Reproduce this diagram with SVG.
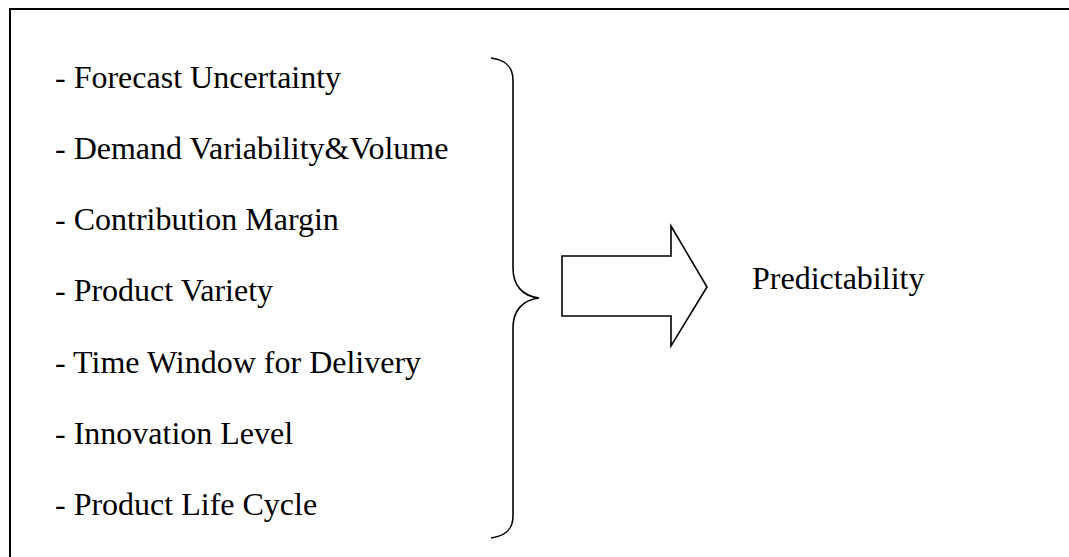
<svg xmlns="http://www.w3.org/2000/svg" width="1069" height="557" viewBox="0 0 1069 557">
  <style>
    .frame { fill: none; stroke: #000; stroke-width: 2; }
    .line { fill: none; stroke: #000; stroke-width: 1.6; stroke-linejoin: miter; }
    .item { font-family: "Liberation Serif", "Times New Roman", serif; font-size: 32px; fill: #000; }
    .result { font-family: "Liberation Serif", "Times New Roman", serif; font-size: 32px; fill: #000; }
  </style>
  <rect width="1069" height="557" fill="#fff"/>
  <!-- outer frame, open past the right and bottom edges -->
  <rect class="frame" x="10" y="9" width="1100" height="600"/>

  <g id="factors">
    <text class="item" x="55" y="88">- Forecast Uncertainty</text>
    <text class="item" x="55" y="159">- Demand Variability&amp;Volume</text>
    <text class="item" x="55" y="230">- Contribution Margin</text>
    <text class="item" x="55" y="301">- Product Variety</text>
    <text class="item" x="55" y="373">- Time Window for Delivery</text>
    <text class="item" x="55" y="444">- Innovation Level</text>
    <text class="item" x="55" y="515">- Product Life Cycle</text>
  </g>

  <g id="connectors">
    <!-- closing brace grouping the factors -->
    <path id="brace" class="line" d="M491,58 C505,60 513,66 513,80 L513,268 C513,285 522,296 539,298 C522,300 513,311 513,328 L513,516 C513,530 505,536 491,538"/>
    <!-- block arrow toward the result -->
    <polygon id="arrow" class="line" points="562,256 671,256 671,226 707,287 671,346 671,316 562,316"/>
  </g>

  <g id="predictability">
    <text class="result" x="752" y="289">Predictability</text>
  </g>
</svg>
